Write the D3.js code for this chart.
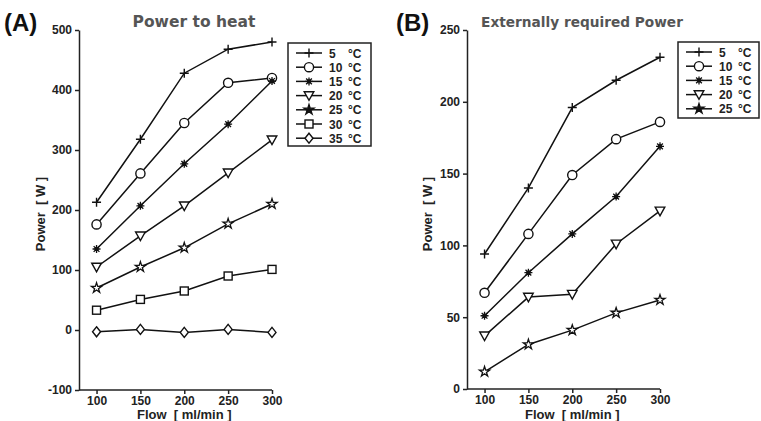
<!DOCTYPE html>
<html>
<head>
<meta charset="utf-8">
<script src="https://cdn.jsdelivr.net/npm/d3@7"></script>
<style>
  body { margin: 0; background: #fff; }
  svg { display: block; font-family: Arial, "Liberation Sans", sans-serif; }
  .tick text { font-size: 12px; font-weight: bold; fill: #222; }
  .domain, .tick line { stroke: #222; stroke-width: 1.5; }
</style>
</head>
<body>
<script>
// flow values (ml/min)
var flows = [100, 150, 200, 250, 300];

// (A) Power to heat [W]
var heatTemps = ['5', '10', '15', '20', '25', '30', '35'];
var heatMarkers = ['plus', 'circle', 'asterisk', 'triangle', 'star', 'square', 'diamond'];
var heat5 = [213, 318, 428, 468, 480];
var heat10 = [176, 261, 345, 412, 420];
var heat15 = [135, 207, 277, 343, 415];
var heat20 = [105, 157, 207, 262, 317];
var heat25 = [70, 105, 137, 177, 210];
var heat30 = [33, 51, 65, 90, 101];
var heat35 = [-3, 1, -4, 1, -4];
var heatTicks = [-100, 0, 100, 200, 300, 400, 500];

// (B) Externally required power [W]
var extTemps = ['5', '10', '15', '20', '25'];
var extMarkers = ['plus', 'circle', 'asterisk', 'triangle', 'star'];
var ext5 = [94, 140, 196, 215, 231];
var ext10 = [67, 108, 149, 174, 186];
var ext15 = [51, 81, 108, 134, 169];
var ext20 = [37, 64, 66, 101, 124];
var ext25 = [12, 31, 41, 53, 62];
var extTicks = [0, 50, 100, 150, 200, 250];

var svg = d3.select('body').append('svg')
            .attr('width', 761)
            .attr('height', 421);

// marker drawing
var drawMarker = function(g, type, x, y, legend){
  var m = g.append('g').attr('transform', 'translate(' + x + ',' + y + ')');
  var s = 4.5;
  if (type == 'plus'){
    m.append('path').attr('d', 'M' + (-s) + ',0H' + s + 'M0,' + (-s) + 'V' + s)
     .attr('stroke', '#111').attr('stroke-width', 1.4);
  } else if (type == 'circle'){
    m.append('circle').attr('r', 4.6).attr('fill', '#fff').attr('stroke', '#111').attr('stroke-width', 1.4);
  } else if (type == 'asterisk'){
    var a = 4, d = a * 0.72;
    m.append('path').attr('d', 'M' + (-a) + ',0H' + a + 'M0,' + (-a) + 'V' + a +
                      'M' + (-d) + ',' + (-d) + 'L' + d + ',' + d + 'M' + (-d) + ',' + d + 'L' + d + ',' + (-d))
     .attr('stroke', '#111').attr('stroke-width', 1.3);
    m.append('circle').attr('r', 2.2).attr('fill', '#111');
  } else if (type == 'triangle'){
    m.append('path').attr('d', 'M-4.8,-3.8L4.8,-3.8L0,4.8Z')
     .attr('fill', '#fff').attr('stroke', '#111').attr('stroke-width', 1.4);
  } else if (type == 'star'){
    m.append('path').attr('d', d3.symbol().type(d3.symbolStar).size(32)())
     .attr('fill', legend ? '#111' : '#fff').attr('stroke', '#111').attr('stroke-width', 1.3);
  } else if (type == 'square'){
    m.append('rect').attr('x', -4).attr('y', -4).attr('width', 8).attr('height', 8)
     .attr('fill', '#fff').attr('stroke', '#111').attr('stroke-width', 1.4);
  } else if (type == 'diamond'){
    m.append('path').attr('d', 'M0,-5L4,0L0,5L-4,0Z')
     .attr('fill', '#fff').attr('stroke', '#111').attr('stroke-width', 1.4);
  }
};

var drawPanel = function(opt){
  var xScale = d3.scaleLinear().domain([80, 300]).range(opt.xRange);
  var yScale = d3.scaleLinear().domain(opt.yDomain).range(opt.yRange);
  var g = svg.append('g');

  g.append('g')
   .attr('transform', 'translate(0,' + opt.yRange[0] + ')')
   .call(d3.axisBottom(xScale).tickValues(flows).tickSize(4).tickSizeOuter(0).tickPadding(2))
   .call(function(a){ a.select('.domain').attr('d', 'M' + opt.xRange[0] + ',0H' + xScale(300)); });

  g.append('g')
   .attr('transform', 'translate(' + opt.xRange[0] + ',0)')
   .call(d3.axisLeft(yScale).tickValues(opt.ticks).tickSize(4).tickSizeOuter(0).tickPadding(3)
           .tickFormat(function(d){ return String(d); }));

  var line = d3.line()
               .x(function(d, i){ return xScale(flows[i]); })
               .y(function(d){ return yScale(d); });

  opt.series.forEach(function(vals, k){
    g.append('path').datum(vals)
     .attr('d', line)
     .attr('fill', 'none')
     .attr('stroke', '#111')
     .attr('stroke-width', 1.5);
  });
  opt.series.forEach(function(vals, k){
    vals.forEach(function(v, i){
      drawMarker(g, opt.markers[k], xScale(flows[i]), yScale(v), false);
    });
  });

  // legend
  var lg = g.append('g');
  lg.append('rect')
    .attr('x', opt.legend.x).attr('y', opt.legend.y)
    .attr('width', opt.legend.w).attr('height', opt.legend.h)
    .attr('fill', '#fff').attr('stroke', '#222').attr('stroke-width', 1.5);
  opt.temps.forEach(function(t, k){
    var yy = opt.legend.y + 10 + k * opt.legend.step;
    var x0 = opt.legend.x + 8, x1 = x0 + 26;
    lg.append('line').attr('x1', x0).attr('x2', x1).attr('y1', yy).attr('y2', yy)
      .attr('stroke', '#111').attr('stroke-width', 1.5);
    drawMarker(lg, opt.markers[k], (x0 + x1) / 2, yy, true);
    lg.append('text').attr('x', x1 + 7).attr('y', yy + 4.5)
      .attr('font-size', 12).attr('font-weight', 'bold').attr('fill', '#222')
      .text(t);
    lg.append('text').attr('x', x1 + 26).attr('y', yy + 4.5)
      .attr('font-size', 12).attr('font-weight', 'bold').attr('fill', '#222')
      .text('\u00b0C');
  });

  // titles and axis labels
  g.append('text').attr('x', opt.tag.x).attr('y', 31)
   .attr('font-size', 24).attr('font-weight', 'bold').attr('fill', '#111')
   .text(opt.tag.text);
  g.append('text').attr('x', opt.title.x).attr('y', 27)
   .attr('text-anchor', 'middle')
   .attr('font-family', '"DejaVu Sans", sans-serif')
   .attr('font-size', opt.title.size).attr('font-weight', 'bold').attr('fill', '#555')
   .text(opt.title.text);
  g.append('text')
   .attr('transform', 'translate(' + opt.yLabelX + ',214) rotate(-90)')
   .attr('text-anchor', 'middle')
   .attr('font-size', 13).attr('font-weight', 'bold').attr('fill', '#222')
   .attr('xml:space', 'preserve')
   .text('Power  [ W ]');
  g.append('text')
   .attr('x', (xScale(100) + xScale(300)) / 2).attr('y', 419)
   .attr('text-anchor', 'middle')
   .attr('font-size', 13).attr('font-weight', 'bold').attr('fill', '#222')
   .attr('xml:space', 'preserve')
   .text('Flow  [ ml/min ]');
};

drawPanel({
  xRange: [79, 272],
  yDomain: [-100, 500],
  yRange: [390, 30],
  ticks: heatTicks,
  series: [heat5, heat10, heat15, heat20, heat25, heat30, heat35],
  markers: heatMarkers,
  temps: heatTemps,
  legend: { x: 288, y: 43, w: 83, h: 103, step: 14.2 },
  tag: { x: 4, text: '(A)' },
  title: { x: 194, text: 'Power to heat', size: 15.5 },
  yLabelX: 45
});

drawPanel({
  xRange: [467, 660],
  yDomain: [0, 250],
  yRange: [389, 30],
  ticks: extTicks,
  series: [ext5, ext10, ext15, ext20, ext25],
  markers: extMarkers,
  temps: extTemps,
  legend: { x: 678, y: 42, w: 81, h: 76, step: 14.2 },
  tag: { x: 396, text: '(B)' },
  title: { x: 582, text: 'Externally required Power', size: 13.7 },
  yLabelX: 432
});
</script>
</body>
</html>
